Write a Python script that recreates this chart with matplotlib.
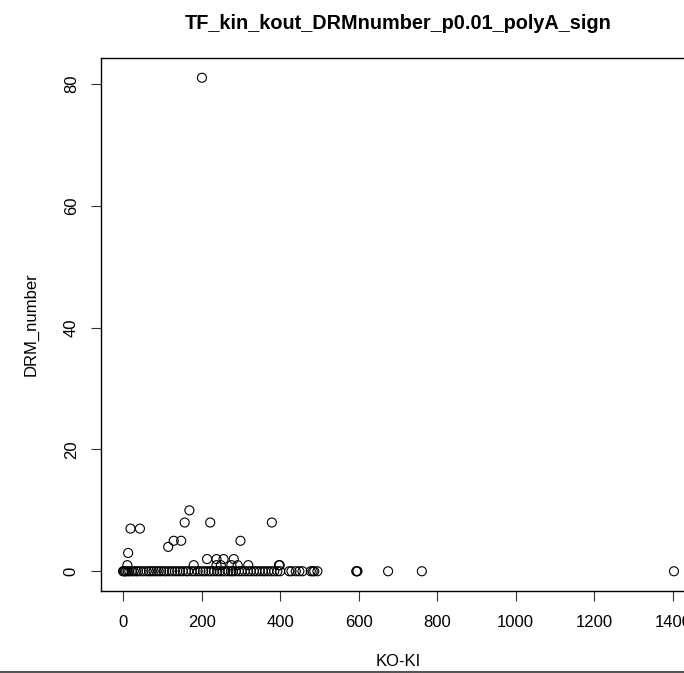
import matplotlib
matplotlib.use("Agg")
import matplotlib.pyplot as plt
from matplotlib.lines import Line2D
import numpy as np

plt.rcParams["font.family"] = ["Liberation Sans", "DejaVu Sans"]

# KO-KI values of TFs with DRM_number > 0
KOKI_POS = [201, 19, 43, 13, 11, 115, 129, 148, 157, 169, 180, 222, 214,
            238, 256, 282, 238, 249, 276, 292, 299, 319, 379, 397, 399]
DRM_POS = [81, 7, 7, 3, 1, 4, 5, 5, 8, 10, 1, 8, 2,
           2, 2, 2, 1, 1, 1, 1, 5, 1, 8, 1, 1]

# KO-KI values of TFs with DRM_number == 0
KOKI_ZERO = [0, 2, 5, 8, 12, 16, 22, 27, 33, 38, 45, 52, 60, 66, 72, 78,
             85, 91, 97, 104, 110, 118, 125, 132, 138, 145, 152, 160, 166,
             175, 182, 190, 197, 204, 210, 218, 225, 232, 240, 246, 253, 260,
             268, 275, 280, 287, 295, 302, 310, 318, 325, 333, 340, 348, 356,
             362, 370, 378, 385, 393, 400, 423, 429, 440, 449, 457, 478, 483,
             487, 495, 594, 595, 597, 675, 761, 1403]

x = np.array(KOKI_POS + KOKI_ZERO, dtype=float)
y = np.array(DRM_POS + [0] * len(KOKI_ZERO), dtype=float)

XTICKS = [0, 200, 400, 600, 800, 1000, 1200, 1400]
YTICKS = [0, 20, 40, 60, 80]

W, H = 684, 673
fig = plt.figure(figsize=(W / 100, H / 100), dpi=100)
ax = fig.add_axes([101 / W, (H - 591) / H, 595 / W, 533 / H])

ax.scatter(x, y, s=6.5 ** 2, facecolors="none", edgecolors="black", linewidths=0.8)

# R-style 4% range extension
xr = x.max() - x.min()
yr = y.max() - y.min()
ax.set_xlim(x.min() - 0.04 * xr, x.max() + 0.04 * xr)
ax.set_ylim(y.min() - 0.04 * yr, y.max() + 0.04 * yr)

ax.set_xticks(XTICKS)
ax.set_yticks(YTICKS)
ax.tick_params(direction="out", length=7, width=0.8, labelsize=12, color="#333333")
ax.tick_params(axis="x", pad=10)
ax.tick_params(axis="y", pad=9)
for lbl in ax.get_yticklabels():
    lbl.set_rotation(90)
    lbl.set_va("center")
for s in ax.spines.values():
    s.set_linewidth(1.0)

fig.text(31 / W, (H - 324) / H, "DRM_number", rotation=90, ha="center",
         va="center", fontsize=12)
fig.text(398 / W, (H - 661) / H, "KO-KI", ha="center", va="center", fontsize=12)
fig.text(398 / W, (H - 29) / H, "TF_kin_kout_DRMnumber_p0.01_polyA_sign",
         ha="center", va="baseline", fontsize=14.3, fontweight="bold")

fig.add_artist(Line2D([0, 1], [1 / H, 1 / H], transform=fig.transFigure,
                      color="#555555", lw=1.5))

fig.savefig("out.png", dpi=100)
